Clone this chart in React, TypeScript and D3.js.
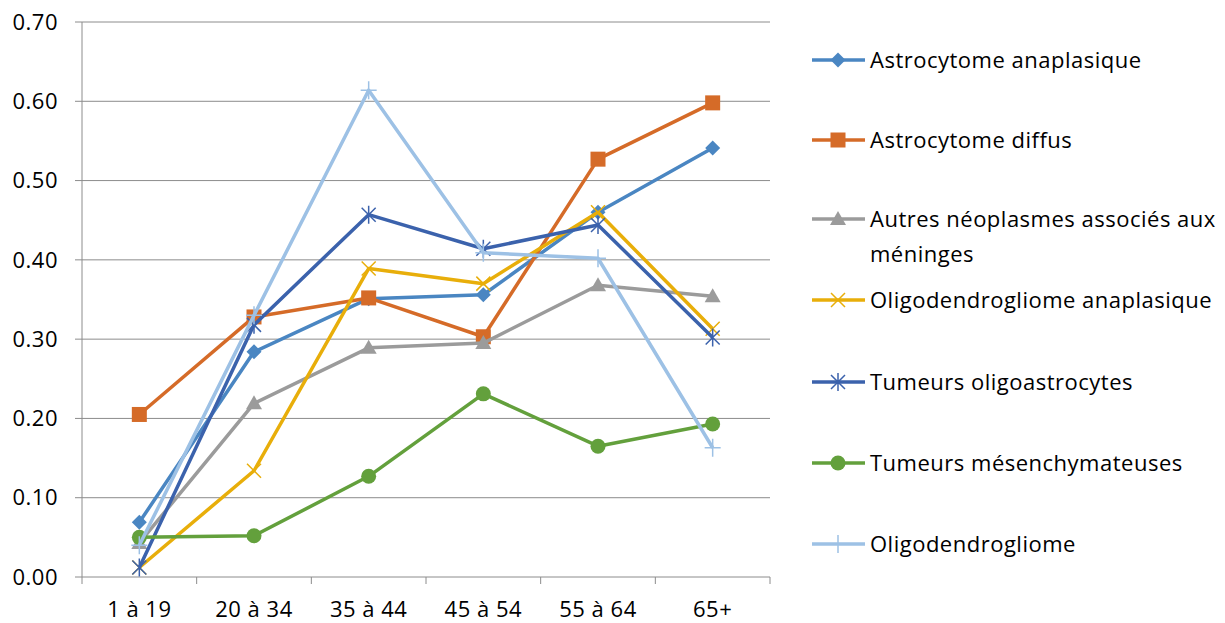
import React from "react";
import * as d3 from "d3";

const categories = ["1 à 19", "20 à 34", "35 à 44", "45 à 54", "55 à 64", "65+"];
const yTicks = [0, 0.1, 0.2, 0.3, 0.4, 0.5, 0.6, 0.7];

const astrocytomeAnaplasique = [0.069, 0.284, 0.351, 0.356, 0.46, 0.541];
const astrocytomeDiffus = [0.205, 0.328, 0.352, 0.303, 0.527, 0.598];
const autresNeoplasmes = [0.043, 0.219, 0.289, 0.295, 0.368, 0.354];
const oligoAnaplasique = [0.012, 0.134, 0.389, 0.37, 0.46, 0.313];
const oligoastrocytes = [0.012, 0.318, 0.457, 0.414, 0.444, 0.302];
const mesenchymateuses = [0.05, 0.052, 0.127, 0.231, 0.165, 0.193];
const oligodendrogliome = [0.04, 0.33, 0.614, 0.409, 0.402, 0.163];

const seriesNames = [
  ["Astrocytome anaplasique"],
  ["Astrocytome diffus"],
  ["Autres néoplasmes associés aux", "méninges"],
  ["Oligodendrogliome anaplasique"],
  ["Tumeurs oligoastrocytes"],
  ["Tumeurs mésenchymateuses"],
  ["Oligodendrogliome"],
];
const seriesValues = [
  astrocytomeAnaplasique,
  astrocytomeDiffus,
  autresNeoplasmes,
  oligoAnaplasique,
  oligoastrocytes,
  mesenchymateuses,
  oligodendrogliome,
];
const colors = ["#4A86C2", "#D56B28", "#9B9B9B", "#E8AE0A", "#3B62AC", "#63A03C", "#9DC1E5"];
const markers = ["diamond", "square", "triangle", "x", "star", "circle", "plus"];
const legendY = [60, 140, 219, 300, 382, 463, 544];

const FONT = "'Open Sans', Lato, sans-serif";
const FS = 22;
const LS = 0.5;

function Marker({ type, x, y, color }: { type: string; x: number; y: number; color: string }) {
  switch (type) {
    case "diamond":
      return <path d={`M${x},${y - 7.5}L${x + 7.5},${y}L${x},${y + 7.5}L${x - 7.5},${y}Z`} fill={color} />;
    case "square":
      return <rect x={x - 7.5} y={y - 7.5} width={15} height={15} fill={color} />;
    case "triangle":
      return <path d={`M${x},${y - 8}L${x + 8},${y + 6}L${x - 8},${y + 6}Z`} fill={color} />;
    case "circle":
      return <circle cx={x} cy={y} r={7.5} fill={color} />;
    case "x":
      return (
        <path
          d={`M${x - 7},${y - 7}L${x + 7},${y + 7}M${x - 7},${y + 7}L${x + 7},${y - 7}`}
          stroke={color}
          strokeWidth={1.5}
        />
      );
    case "star":
      return (
        <path
          d={`M${x - 7},${y - 7}L${x + 7},${y + 7}M${x - 7},${y + 7}L${x + 7},${y - 7}M${x},${y - 9}L${x},${y + 9}`}
          stroke={color}
          strokeWidth={1.5}
        />
      );
    case "plus":
      return (
        <path d={`M${x - 8},${y}L${x + 8},${y}M${x},${y - 9}L${x},${y + 9}`} stroke={color} strokeWidth={1.5} />
      );
  }
  return null;
}

export default function App() {
  const width = 1225;
  const height = 623;
  const left = 82;
  const right = 770;
  const top = 22;
  const bottom = 577;

  const x = d3.scaleBand().domain(categories).range([left, right]);
  const y = d3.scaleLinear().domain([0, 0.7]).range([bottom, top]);
  const cx = (c: string) => (x(c) as number) + x.bandwidth() / 2;

  const line = d3
    .line<number>()
    .x((_, i) => cx(categories[i]))
    .y((d) => y(d));

  return (
    <svg
      width={width}
      height={height}
      style={{ position: "absolute", left: 0, top: 0, background: "#fff" }}
      fontFamily={FONT}
      letterSpacing={LS}
    >
      {yTicks.map((t) => (
        <g key={t}>
          {t > 0 && <line x1={left} x2={right} y1={y(t)} y2={y(t)} stroke="#8C8C8C" strokeWidth={1} />}
          <line x1={left - 7} x2={left} y1={y(t)} y2={y(t)} stroke="#8C8C8C" strokeWidth={1} />
          <text x={58} y={y(t)} dy="0.35em" textAnchor="end" fontSize={FS} fill="#000">
            {t.toFixed(2)}
          </text>
        </g>
      ))}
      <line x1={left} x2={left} y1={top} y2={bottom + 7} stroke="#8C8C8C" strokeWidth={1} />
      <line x1={left} x2={right} y1={bottom} y2={bottom} stroke="#8C8C8C" strokeWidth={1} />
      {categories.map((c) => (
        <g key={c}>
          <line
            x1={(x(c) as number) + x.bandwidth()}
            x2={(x(c) as number) + x.bandwidth()}
            y1={bottom}
            y2={bottom + 7}
            stroke="#8C8C8C"
          />
          <text x={cx(c)} y={617} textAnchor="middle" fontSize={FS} fill="#000">
            {c}
          </text>
        </g>
      ))}
      {seriesValues.map((vals, si) => (
        <g key={si}>
          <path d={line(vals) || ""} fill="none" stroke={colors[si]} strokeWidth={3.5} strokeLinejoin="round" />
          {vals.map((v, i) => (
            <Marker key={i} type={markers[si]} x={cx(categories[i])} y={y(v)} color={colors[si]} />
          ))}
        </g>
      ))}
      {seriesNames.map((lines, si) => (
        <g key={si}>
          <line x1={812} x2={865} y1={legendY[si]} y2={legendY[si]} stroke={colors[si]} strokeWidth={3.5} />
          <Marker type={markers[si]} x={838} y={legendY[si]} color={colors[si]} />
          {lines.map((l, li) => (
            <text key={li} x={870} y={legendY[si] + li * 35} dy="0.35em" fontSize={FS} fill="#000">
              {l}
            </text>
          ))}
        </g>
      ))}
    </svg>
  );
}
